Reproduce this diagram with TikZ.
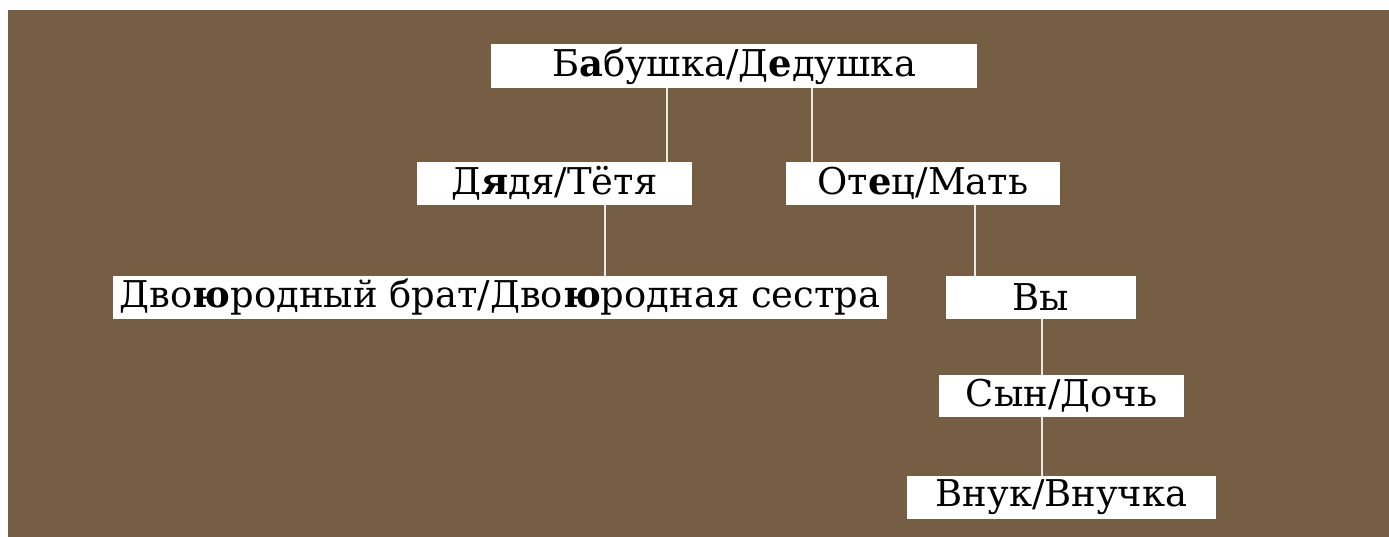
\documentclass[tikz,border=0pt]{standalone}
\usepackage{fontspec}
\setmainfont{DejaVu Serif}
\usepackage{tikz}
\definecolor{barkbrown}{RGB}{118,94,69}
\definecolor{linkgray}{RGB}{236,232,226}
\tikzset{
    kin/.style={fill=white, inner sep=0pt, minimum height=43*0.02cm, font=\fontsize{21}{24}\selectfont},
    link/.style={draw=linkgray, line width=1.1pt}
}

\begin{document}
\begin{tikzpicture}[x=0.02cm, y=-0.02cm]
        % Background
        \useasboundingbox (0,0) rectangle (1389,537);
        \fill[white] (0,0) rectangle (1389,537);
        \fill[barkbrown] (8,10) rectangle (1389,537);

        % Generations
        \node[kin, minimum width=486*0.02cm, minimum height=44*0.02cm] (gp) at (734,66) {Б\textbf{а}бушка/Д\textbf{е}душка};
        \node[kin, minimum width=275*0.02cm] (uncle) at (554.5,183.5) {Д\textbf{я}дя/Тётя};
        \node[kin, minimum width=274*0.02cm] (parent) at (923,183.5) {От\textbf{е}ц/Мать};
        \node[kin, minimum width=774*0.02cm] (cousin) at (500,297.5) {Дво\textbf{ю}родный брат/Дво\textbf{ю}родная сестра};
        \node[kin, minimum width=190*0.02cm] (you) at (1041,297.5) {Вы};
        \node[kin, minimum width=245*0.02cm, minimum height=42*0.02cm] (child) at (1061.5,396) {Сын/Дочь};
        \node[kin, minimum width=309*0.02cm] (grand) at (1061.5,497.5) {Внук/Внучка};

        % Connectors
        \coordinate (c1) at (667,0);
        \coordinate (c2) at (812,0);
        \coordinate (c3) at (605,0);
        \coordinate (c4) at (975,0);
        \coordinate (c5) at (1042,0);
        \draw[link] (gp.south -| c1) -- (uncle.north -| c1);
        \draw[link] (gp.south -| c2) -- (parent.north -| c2);
        \draw[link] (uncle.south -| c3) -- (cousin.north -| c3);
        \draw[link] (parent.south -| c4) -- (you.north -| c4);
        \draw[link] (you.south -| c5) -- (child.north -| c5);
        \draw[link] (child.south -| c5) -- (grand.north -| c5);
    \end{tikzpicture}
\end{document}
